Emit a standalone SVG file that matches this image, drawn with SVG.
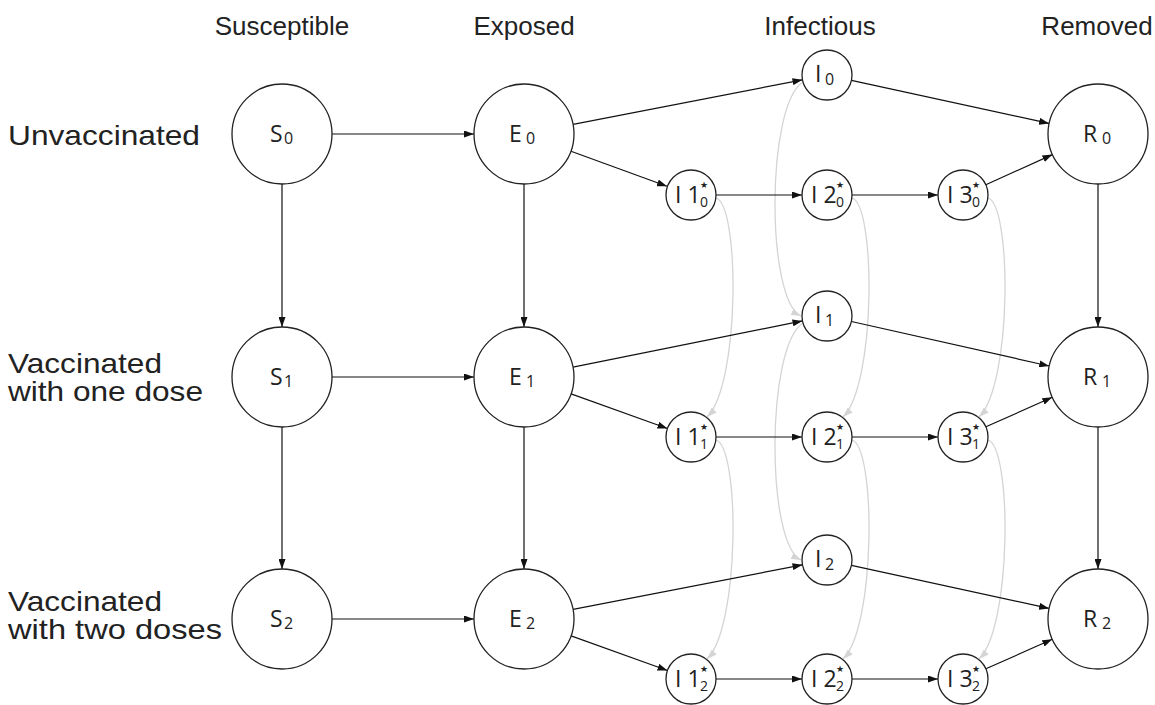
<svg xmlns="http://www.w3.org/2000/svg" width="1155" height="705" viewBox="0 0 1155 705">
<style>
.hdr{font-family:"Liberation Sans",Arial,sans-serif;font-size:26px;fill:#222;text-anchor:middle}
.row{font-family:"Liberation Sans",Arial,sans-serif;font-size:28px;fill:#222}
.nd{fill:#fff;stroke:#222;stroke-width:1.3}
.lb{font-family:"Open Sans","Noto Sans",sans-serif;font-size:23px;fill:#222}
.sb{font-family:"Open Sans","Noto Sans",sans-serif;font-size:16px;fill:#222}
.ss{font-family:"Open Sans","Noto Sans",sans-serif;font-size:14px;fill:#222}
.st{font-family:"DejaVu Sans",sans-serif;font-size:9px;fill:#222;text-anchor:middle}
.e{fill:none;stroke:#111;stroke-width:1.2;marker-end:url(#ah)}
.g{fill:none;stroke:#d4d4d4;stroke-width:1.3;marker-end:url(#ag)}
</style>
<defs>
<marker id="ah" viewBox="0 0 10 7" refX="10" refY="3.5" markerWidth="10" markerHeight="7" markerUnits="userSpaceOnUse" orient="auto"><path d="M0,0 L10,3.5 L0,7 z" fill="#111"/></marker>
<marker id="ag" viewBox="0 0 10 7" refX="10" refY="3.5" markerWidth="10" markerHeight="7" markerUnits="userSpaceOnUse" orient="auto"><path d="M0,0 L10,3.5 L0,7 z" fill="#d4d4d4"/></marker>
</defs>
<g id="headers">
<text class="hdr" x="282" y="35">Susceptible</text>
<text class="hdr" x="524" y="35">Exposed</text>
<text class="hdr" x="820" y="35">Infectious</text>
<text class="hdr" x="1097" y="35">Removed</text>
</g>
<g id="rowlabels">
<text class="row" x="8" y="145" textLength="192" lengthAdjust="spacingAndGlyphs">Unvaccinated</text>
<text class="row" x="8" y="373" textLength="154" lengthAdjust="spacingAndGlyphs">Vaccinated</text>
<text class="row" x="8" y="401" textLength="195" lengthAdjust="spacingAndGlyphs">with one dose</text>
<text class="row" x="8" y="611" textLength="154" lengthAdjust="spacingAndGlyphs">Vaccinated</text>
<text class="row" x="8" y="639" textLength="214" lengthAdjust="spacingAndGlyphs">with two doses</text>
</g>
<g id="connectors">
<path class="g" d="M803,82 C766,105 766,300 801,316"/>
<path class="g" d="M803,323 C766,346 766,544 801,560"/>
<path class="g" d="M716,198 C740,205 740,385 707,417"/>
<path class="g" d="M716,440 C740,447 740,627 707,659"/>
<path class="g" d="M852,198 C876,205 876,385 843,417"/>
<path class="g" d="M852,440 C876,447 876,627 843,659"/>
<path class="g" d="M988,198 C1012,205 1012,385 979,417"/>
<path class="g" d="M988,440 C1012,447 1012,627 979,659"/>
<line class="e" x1="332" y1="134" x2="474" y2="134"/>
<line class="e" x1="332" y1="377" x2="474" y2="377"/>
<line class="e" x1="332" y1="619" x2="474" y2="619"/>
<line class="e" x1="282" y1="184" x2="282" y2="327"/>
<line class="e" x1="282" y1="427" x2="282" y2="569"/>
<line class="e" x1="524" y1="184" x2="524" y2="327"/>
<line class="e" x1="524" y1="427" x2="524" y2="569"/>
<line class="e" x1="1098" y1="184" x2="1098" y2="327"/>
<line class="e" x1="1098" y1="427" x2="1098" y2="569"/>
<line class="e" x1="573.1" y1="124.4" x2="802.5" y2="79.8"/>
<line class="e" x1="573.0" y1="367.1" x2="802.5" y2="320.9"/>
<line class="e" x1="573.1" y1="609.4" x2="802.5" y2="564.8"/>
<line class="e" x1="571.0" y1="151.2" x2="667.0" y2="186.3"/>
<line class="e" x1="571.1" y1="393.9" x2="667.5" y2="428.5"/>
<line class="e" x1="571.1" y1="635.9" x2="667.5" y2="670.5"/>
<line class="e" x1="716" y1="195" x2="802" y2="195"/>
<line class="e" x1="852" y1="195" x2="938" y2="195"/>
<line class="e" x1="716" y1="437" x2="802" y2="437"/>
<line class="e" x1="852" y1="437" x2="938" y2="437"/>
<line class="e" x1="716" y1="679" x2="802" y2="679"/>
<line class="e" x1="852" y1="679" x2="938" y2="679"/>
<line class="e" x1="851.4" y1="80.3" x2="1049.1" y2="123.4"/>
<line class="e" x1="851.4" y1="321.5" x2="1049.2" y2="366.0"/>
<line class="e" x1="851.4" y1="565.3" x2="1049.1" y2="608.4"/>
<line class="e" x1="985.8" y1="184.7" x2="1052.4" y2="154.6"/>
<line class="e" x1="985.9" y1="426.8" x2="1052.3" y2="397.3"/>
<line class="e" x1="985.9" y1="668.8" x2="1052.3" y2="639.3"/>
</g>
<g id="S0"><circle class="nd" cx="282" cy="134" r="50"/><text class="lb" x="270" y="142">S</text><text class="sb" x="284" y="144">0</text></g>
<g id="S1"><circle class="nd" cx="282" cy="377" r="50"/><text class="lb" x="270" y="385">S</text><text class="sb" x="284" y="387">1</text></g>
<g id="S2"><circle class="nd" cx="282" cy="619" r="50"/><text class="lb" x="270" y="627">S</text><text class="sb" x="284" y="629">2</text></g>
<g id="E0"><circle class="nd" cx="524" cy="134" r="50"/><text class="lb" x="509" y="142">E</text><text class="sb" x="526" y="144">0</text></g>
<g id="E1"><circle class="nd" cx="524" cy="377" r="50"/><text class="lb" x="509" y="385">E</text><text class="sb" x="526" y="387">1</text></g>
<g id="E2"><circle class="nd" cx="524" cy="619" r="50"/><text class="lb" x="509" y="627">E</text><text class="sb" x="526" y="629">2</text></g>
<g id="R0"><circle class="nd" cx="1098" cy="134" r="50"/><text class="lb" x="1083" y="142">R</text><text class="sb" x="1102" y="144">0</text></g>
<g id="R1"><circle class="nd" cx="1098" cy="377" r="50"/><text class="lb" x="1083" y="385">R</text><text class="sb" x="1102" y="387">1</text></g>
<g id="R2"><circle class="nd" cx="1098" cy="619" r="50"/><text class="lb" x="1083" y="627">R</text><text class="sb" x="1102" y="629">2</text></g>
<g id="I0"><circle class="nd" cx="827" cy="75" r="25"/><text class="lb" x="815" y="82">I</text><text class="sb" x="825" y="85">0</text></g>
<g id="I1"><circle class="nd" cx="827" cy="316" r="25"/><text class="lb" x="815" y="323">I</text><text class="sb" x="825" y="326">1</text></g>
<g id="I2"><circle class="nd" cx="827" cy="560" r="25"/><text class="lb" x="815" y="567">I</text><text class="sb" x="825" y="570">2</text></g>
<g id="I1s0"><circle class="nd" cx="691" cy="195" r="25"/><text class="lb" x="675" y="203">I 1</text><text class="st" x="704" y="188">★</text><text class="ss" x="700" y="207">0</text></g>
<g id="I2s0"><circle class="nd" cx="827" cy="195" r="25"/><text class="lb" x="811" y="203">I 2</text><text class="st" x="840" y="188">★</text><text class="ss" x="836" y="207">0</text></g>
<g id="I3s0"><circle class="nd" cx="963" cy="195" r="25"/><text class="lb" x="947" y="203">I 3</text><text class="st" x="976" y="188">★</text><text class="ss" x="972" y="207">0</text></g>
<g id="I1s1"><circle class="nd" cx="691" cy="437" r="25"/><text class="lb" x="675" y="445">I 1</text><text class="st" x="704" y="430">★</text><text class="ss" x="700" y="449">1</text></g>
<g id="I2s1"><circle class="nd" cx="827" cy="437" r="25"/><text class="lb" x="811" y="445">I 2</text><text class="st" x="840" y="430">★</text><text class="ss" x="836" y="449">1</text></g>
<g id="I3s1"><circle class="nd" cx="963" cy="437" r="25"/><text class="lb" x="947" y="445">I 3</text><text class="st" x="976" y="430">★</text><text class="ss" x="972" y="449">1</text></g>
<g id="I1s2"><circle class="nd" cx="691" cy="679" r="25"/><text class="lb" x="675" y="687">I 1</text><text class="st" x="704" y="672">★</text><text class="ss" x="700" y="691">2</text></g>
<g id="I2s2"><circle class="nd" cx="827" cy="679" r="25"/><text class="lb" x="811" y="687">I 2</text><text class="st" x="840" y="672">★</text><text class="ss" x="836" y="691">2</text></g>
<g id="I3s2"><circle class="nd" cx="963" cy="679" r="25"/><text class="lb" x="947" y="687">I 3</text><text class="st" x="976" y="672">★</text><text class="ss" x="972" y="691">2</text></g>
</svg>
